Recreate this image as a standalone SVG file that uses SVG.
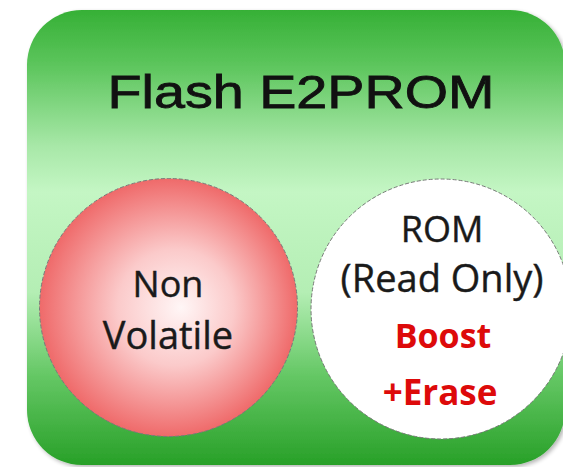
<svg xmlns="http://www.w3.org/2000/svg" width="563" height="467" viewBox="0 0 563 467">
  <defs>
    <linearGradient id="panelFill" x1="0" y1="0" x2="0" y2="1">
      <stop offset="0" stop-color="#36b036"/>
      <stop offset="0.12" stop-color="#5cc55c"/>
      <stop offset="0.3" stop-color="#a8e8a8"/>
      <stop offset="0.4" stop-color="#c4f6c4"/>
      <stop offset="0.62" stop-color="#b4eeb4"/>
      <stop offset="0.8" stop-color="#66c866"/>
      <stop offset="1" stop-color="#28a028"/>
    </linearGradient>
    <radialGradient id="redFill" cx="0.5" cy="0.5" r="0.5" fx="0.55" fy="0.5">
      <stop offset="0" stop-color="#fff6f6"/>
      <stop offset="0.45" stop-color="#fbcaca"/>
      <stop offset="1" stop-color="#ef6a6a"/>
    </radialGradient>
    <filter id="soft" x="-10%" y="-10%" width="120%" height="120%">
      <feGaussianBlur in="SourceAlpha" stdDeviation="2"/>
      <feOffset dx="2" dy="2"/>
      <feComponentTransfer><feFuncA type="linear" slope="0.3"/></feComponentTransfer>
      <feMerge><feMergeNode/><feMergeNode in="SourceGraphic"/></feMerge>
    </filter>
    <style>
      .dark { font-family: "Open Sans", "Liberation Sans", sans-serif; fill: #1a1a1a; stroke: #1a1a1a; stroke-width: 0.4; text-anchor: middle; }
      .hot { font-family: "Open Sans", "Liberation Sans", sans-serif; font-weight: bold; fill: #dd0a0a; text-anchor: middle; }
      .ring { stroke: #7a7a7a; stroke-width: 1; stroke-dasharray: 4 2; }
    </style>
  </defs>

  <rect width="563" height="467" fill="#ffffff"/>

  <g id="flash-panel">
    <rect x="27" y="10" width="538" height="455" rx="55" ry="55" fill="url(#panelFill)" filter="url(#soft)"/>
    <text x="301" y="108" font-family="'Liberation Sans', Arial, sans-serif" font-size="46" fill="#111111" stroke="#111111" stroke-width="0.8" text-anchor="middle" textLength="387" lengthAdjust="spacingAndGlyphs">Flash E2PROM</text>
  </g>

  <g id="non-volatile">
    <circle cx="168.5" cy="307.5" r="129" fill="url(#redFill)" class="ring"/>
    <text class="dark" x="168" y="297" font-size="36">Non</text>
    <text class="dark" x="168" y="349" font-size="38">Volatile</text>
  </g>

  <g id="rom">
    <circle cx="441" cy="309" r="130" fill="#ffffff" class="ring"/>
    <text class="dark" x="442" y="242" font-size="36">ROM</text>
    <text class="dark" x="442" y="292" font-size="38">(Read Only)</text>
    <text class="hot" x="443" y="348" font-size="34">Boost</text>
    <text class="hot" x="440" y="405" font-size="35">+Erase</text>
  </g>

  <g id="connectors"/>
</svg>
